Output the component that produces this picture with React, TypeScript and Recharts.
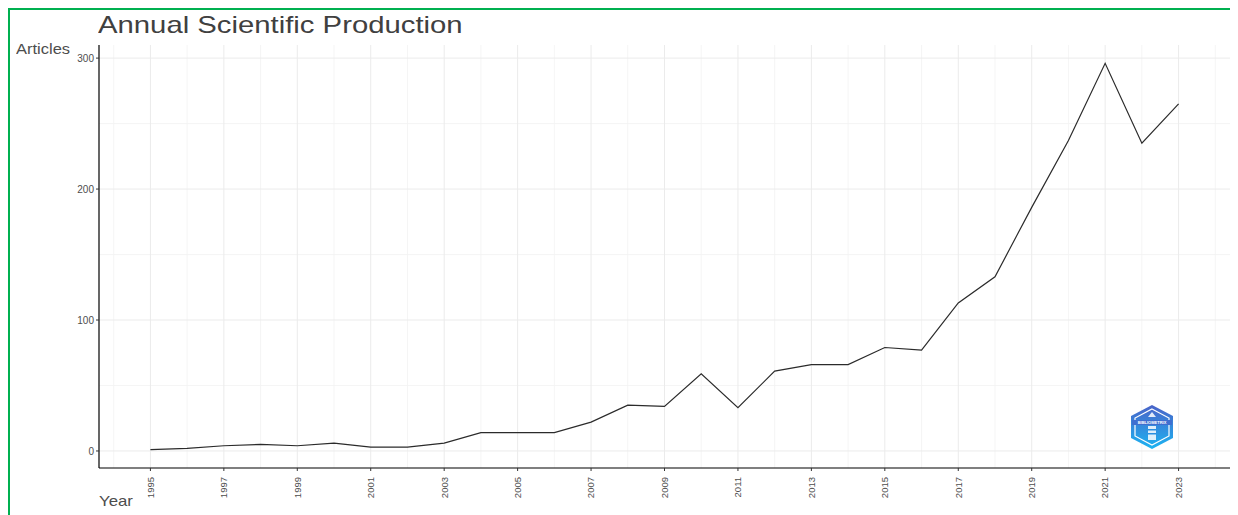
import React from "react";
import { LineChart, Line, XAxis, YAxis, CartesianGrid } from "recharts";

const years = [1995, 1996, 1997, 1998, 1999, 2000, 2001, 2002, 2003, 2004, 2005, 2006, 2007, 2008, 2009, 2010, 2011, 2012, 2013, 2014, 2015, 2016, 2017, 2018, 2019, 2020, 2021, 2022, 2023];
const articles = [1, 2, 4, 5, 4, 6, 3, 3, 6, 14, 14, 14, 22, 35, 34, 59, 33, 61, 66, 66, 79, 77, 113, 133, 186, 237, 296, 235, 265];
const xTicks = [1995, 1997, 1999, 2001, 2003, 2005, 2007, 2009, 2011, 2013, 2015, 2017, 2019, 2021, 2023];
const xMinor = [1994, 1996, 1998, 2000, 2002, 2004, 2006, 2008, 2010, 2012, 2014, 2016, 2018, 2020, 2022, 2024];
const yTicks = [0, 100, 200, 300];
const yMinor = [50, 150, 250];

const data = years.map((y, i) => ({ year: y, articles: articles[i] }));

const FONT = "'Liberation Sans', Arial, Helvetica, sans-serif";

const XTick = (props: any) => {
  const { x, y, payload } = props;
  return (
    <g transform={`translate(${x},${y})`}>
      <text transform="rotate(-90)" x={-4} y={0} dy="0.35em" textAnchor="end" fontSize={9.5} fill="#4d4d4d" fontFamily={FONT}>
        {payload.value}
      </text>
    </g>
  );
};

const Logo = () => (
  <svg width={50} height={48} viewBox="0 0 50 48" style={{ position: "absolute", left: 1117, top: 393 }}>
    <defs>
      <linearGradient id="lg" x1="0" y1="0" x2="0" y2="1">
        <stop offset="0%" stopColor="#4a63c8" />
        <stop offset="100%" stopColor="#1cb4f2" />
      </linearGradient>
    </defs>
    <polygon points="25,2 46,13 46,35 25,46 4,35 4,13" fill="url(#lg)" />
    <polygon points="25,6 42,15 42,33 25,42 8,33 8,15" fill="none" stroke="#ffffff" strokeWidth={1.2} />
    <rect x={5} y={17} width={40} height={5} fill="#3f6fd0" />
    <text x={25} y={21} textAnchor="middle" fontSize={4} fill="#ffffff" fontFamily={FONT} fontWeight="bold">BIBLIOMETRIX</text>
    <rect x={21} y={23} width={8} height={14} fill="#ffffff" opacity={0.85} />
    <rect x={21} y={26} width={8} height={1.5} fill="#2a8fe0" />
    <rect x={21} y={30} width={8} height={1.5} fill="#2a8fe0" />
    <polygon points="25,9 29,14 21,14" fill="#ffffff" opacity={0.85} />
  </svg>
);

export default function App() {
  return (
    <div
      style={{
        position: "relative",
        width: 1230,
        height: 507,
        boxSizing: "border-box",
        border: "2px solid #00b050",
        borderBottom: "none",
        overflow: "hidden",
        background: "#ffffff",
      }}
    >
      <div style={{ position: "absolute", left: 0, top: 0 }}>
        <LineChart width={1226} height={505} data={data} margin={{ top: 35, right: 6, bottom: 7, left: 39 }}>
          <CartesianGrid stroke="#f3f3f3" strokeWidth={0.8} horizontalValues={yMinor} verticalValues={xMinor} />
          <CartesianGrid stroke="#ebebeb" strokeWidth={1} horizontalValues={yTicks} verticalValues={xTicks} />
          <XAxis
            dataKey="year"
            type="number"
            domain={[1993.6, 2024.4]}
            ticks={xTicks}
            allowDataOverflow
            tick={<XTick />}
            tickSize={3}
            tickLine={{ stroke: "#333333" }}
            axisLine={{ stroke: "#000000", strokeWidth: 1.2 }}
            height={40}
            interval={0}
          />
          <YAxis
            type="number"
            domain={[-13, 310]}
            ticks={yTicks}
            allowDataOverflow
            width={50}
            tickSize={3}
            tickLine={{ stroke: "#333333" }}
            axisLine={{ stroke: "#000000", strokeWidth: 1.2 }}
            tick={{ fontSize: 10, fill: "#4d4d4d", fontFamily: FONT }}
            interval={0}
          />
          <Line type="linear" dataKey="articles" stroke="#2b2b2b" strokeWidth={1.2} dot={false} isAnimationActive={false} />
        </LineChart>
      </div>
      <div style={{ position: "absolute", left: 88, top: 0, fontFamily: FONT, fontSize: 24, color: "#404040", lineHeight: "30px", whiteSpace: "nowrap", transform: "scaleX(1.22)", transformOrigin: "left top" }}>
        Annual Scientific Production
      </div>
      <div style={{ position: "absolute", left: 6, top: 30, fontFamily: FONT, fontSize: 15, color: "#4d4d4d", lineHeight: "18px", whiteSpace: "nowrap", transform: "scaleX(1.1)", transformOrigin: "left top" }}>
        Articles
      </div>
      <div style={{ position: "absolute", left: 89, top: 482, fontFamily: FONT, fontSize: 15, color: "#4d4d4d", lineHeight: "18px", whiteSpace: "nowrap", transform: "scaleX(1.12)", transformOrigin: "left top" }}>
        Year
      </div>
      <Logo />
    </div>
  );
}
